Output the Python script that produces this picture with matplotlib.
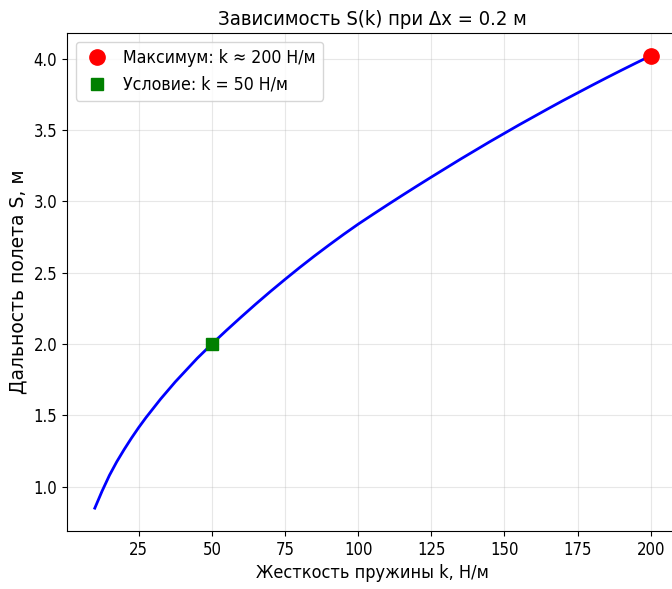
import matplotlib
matplotlib.use("Agg")
import matplotlib.pyplot as plt

# values
k_values = [10, 12.5, 15, 17.5, 20, 22.5, 25, 27.5, 30, 32.5, 35, 37.5,
            40, 42.5, 45, 47.5, 50, 55, 60, 65, 70, 75, 80, 85, 90, 95,
            100, 105, 110, 115, 120, 125, 130, 135, 140, 145, 150, 155,
            160, 165, 170, 175, 180, 185, 190, 195, 200]
s_values = [0.85, 0.97, 1.08, 1.175, 1.26, 1.34, 1.415, 1.485, 1.55,
            1.615, 1.675, 1.735, 1.79, 1.845, 1.90, 1.95, 2.00, 2.096,
            2.189, 2.280, 2.368, 2.453, 2.536, 2.616, 2.693, 2.768, 2.840,
            2.908, 2.975, 3.041, 3.106, 3.170, 3.233, 3.296, 3.357, 3.418,
            3.477, 3.536, 3.593, 3.650, 3.706, 3.760, 3.814, 3.867, 3.919,
            3.970, 4.020]

k_max, s_max = 200, 4.02
k_cond, s_cond = 50, 2.00

plt.rcParams["font.family"] = ["DejaVu Sans"]

fig = plt.figure(figsize=(6.72, 5.89), dpi=100)
ax = fig.add_axes([0.0997, 0.0985, 0.91, 0.8455])

ax.plot(k_values, s_values, color="blue", linewidth=2)
ax.plot(k_max, s_max, "o", color="red", markersize=11,
        label="Максимум: k ≈ 200 Н/м")
ax.plot(k_cond, s_cond, "s", color="green", markersize=9,
        label="Условие: k = 50 Н/м")

ax.set_xlim(0.5, 209.5)
ax.set_ylim(0.69, 4.18)
ax.set_xticks([25, 50, 75, 100, 125, 150, 175, 200])
ax.set_yticks([1.0, 1.5, 2.0, 2.5, 3.0, 3.5, 4.0])

ax.set_title("Зависимость S(k) при Δx = 0.2 м", fontstretch="condensed",
             fontsize=14.5)
ax.set_xlabel("Жесткость пружины k, Н/м", fontstretch="condensed",
              fontsize=13)
ax.set_ylabel("Дальность полета S, м", fontsize=13.5)

for lbl in ax.get_xticklabels() + ax.get_yticklabels():
    lbl.set_fontstretch("condensed")
    lbl.set_fontsize(12)

ax.grid(True, alpha=0.3)
ax.legend(loc="upper left", prop={"stretch": "condensed", "size": 12.7},
          handlelength=1.6, handletextpad=0.7)

fig.savefig("out.png", dpi=100)
